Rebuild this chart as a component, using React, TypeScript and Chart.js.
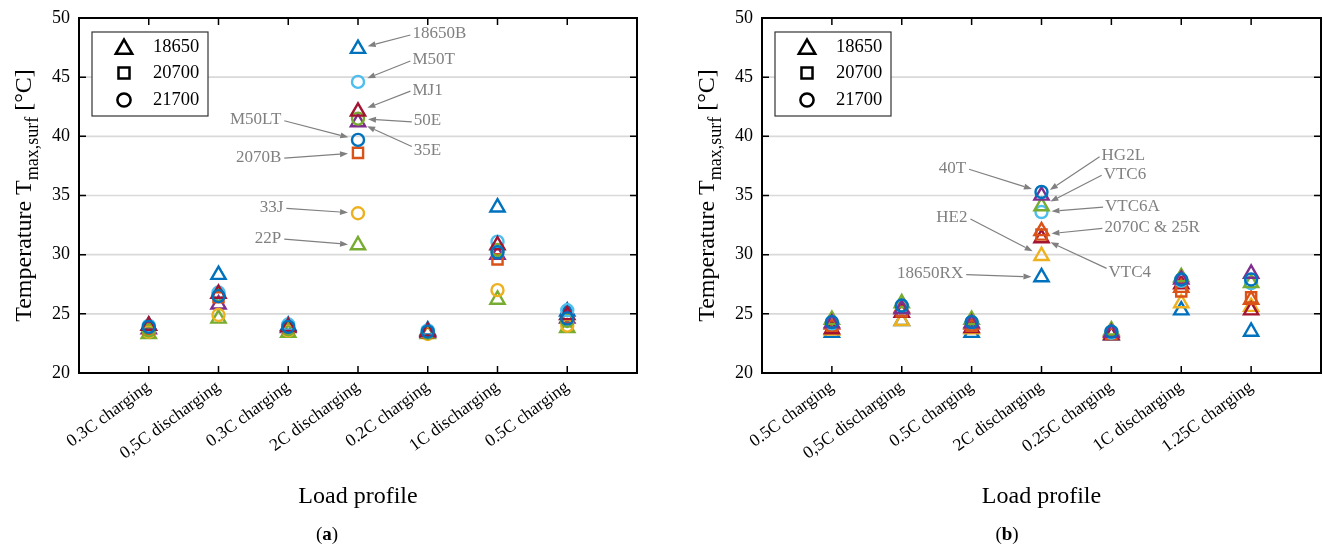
import React, { useEffect, useRef } from 'react';
import { Chart, registerables } from 'chart.js';
Chart.register(...registerables);

const FONT = '"Liberation Serif", "Times New Roman", serif';

// ---------- categories / ticks ----------
const categoriesA = ['0.3C charging', '0,5C discharging', '0.3C charging', '2C discharging', '0.2C charging', '1C discharging', '0.5C charging'];
const categoriesB = ['0.5C charging', '0,5C discharging', '0.5C charging', '2C discharging', '0.25C charging', '1C discharging', '1.25C charging'];
const yTicks = [20, 25, 30, 35, 40, 45, 50];
const legendTypes = ['18650', '20700', '21700'];

// ---------- panel (a) values, °C ----------
const a18650B = [24.0, 28.3, 24.0, 47.4, 23.6, 34.0, 25.2];
const aMJ1 = [24.0, 26.7, 23.9, 42.1, 23.5, 30.8, 24.9];
const a35E = [23.7, 25.8, 23.8, 41.2, 23.4, 30.0, 24.6];
const a22P = [23.3, 24.6, 23.4, 30.8, 23.3, 26.2, 23.8];
const a2070B = [23.7, 26.4, 23.8, 38.6, 23.4, 29.6, 24.6];
const aM50T = [24.0, 26.8, 24.1, 44.6, 23.6, 31.1, 25.3];
const aM50LT = [23.9, 26.5, 23.9, 39.7, 23.5, 30.2, 24.6];
const a50E = [23.6, 26.6, 23.7, 41.5, 23.4, 30.4, 24.4];
const a33J = [23.5, 24.9, 23.6, 33.5, 23.3, 27.0, 24.0];

// ---------- panel (b) values, °C ----------
const b40T = [24.3, 25.7, 24.3, 35.3, 23.5, 27.9, 27.9];
const bHG2L = [24.2, 25.4, 24.2, 35.0, 23.4, 27.9, 28.4];
const bVTC6 = [24.5, 25.9, 24.5, 34.1, 23.6, 28.1, 27.6];
const bVTC6A = [24.2, 25.6, 24.3, 33.6, 23.4, 27.8, 27.6];
const b25R = [24.1, 25.5, 24.1, 32.0, 23.5, 27.2, 26.2];
const b2070C = [24.0, 25.2, 24.0, 31.7, 23.3, 26.9, 26.4];
const bVTC4 = [23.7, 25.1, 23.8, 31.4, 23.2, 27.5, 25.3];
const bHE2 = [23.6, 24.4, 23.7, 29.9, 23.3, 25.9, 25.6];
const b18650RX = [23.4, 24.4, 23.4, 28.1, 23.2, 25.3, 23.5];

const COL = {
  blue: '#0072BD', orange: '#D95319', yellow: '#EDB120', purple: '#7E2F8E',
  green: '#77AC30', cyan: '#4DBEEE', red: '#A2142F',
};

type Shape = 'triangle' | 'rect' | 'circle';
const SHAPE_OF: Record<string, Shape> = { '18650': 'triangle', '20700': 'rect', '21700': 'circle' };
const RADIUS_OF: Record<Shape, number> = { triangle: 8.2, rect: 7.2, circle: 6 };
const LEGEND_RADIUS: Record<Shape, number> = { triangle: 9.5, rect: 7.8, circle: 6.6 };

type Series = { name: string; type: string; color: string; values: number[] };

// listed bottom -> top drawing order
const seriesA: Series[] = [
  { name: '22P', type: '18650', color: COL.green, values: a22P },
  { name: '35E', type: '18650', color: COL.purple, values: a35E },
  { name: '33J', type: '21700', color: COL.yellow, values: a33J },
  { name: '18650B', type: '18650', color: COL.blue, values: a18650B },
  { name: '2070B', type: '20700', color: COL.orange, values: a2070B },
  { name: '50E', type: '21700', color: COL.green, values: a50E },
  { name: 'M50T', type: '21700', color: COL.cyan, values: aM50T },
  { name: 'MJ1', type: '18650', color: COL.red, values: aMJ1 },
  { name: 'M50LT', type: '21700', color: COL.blue, values: aM50LT },
];

const seriesB: Series[] = [
  { name: '18650RX', type: '18650', color: COL.blue, values: b18650RX },
  { name: 'HE2', type: '18650', color: COL.yellow, values: bHE2 },
  { name: 'VTC4', type: '18650', color: COL.red, values: bVTC4 },
  { name: '2070C', type: '20700', color: COL.orange, values: b2070C },
  { name: '25R', type: '18650', color: COL.orange, values: b25R },
  { name: 'VTC6A', type: '21700', color: COL.cyan, values: bVTC6A },
  { name: 'VTC6', type: '18650', color: COL.green, values: bVTC6 },
  { name: 'HG2L', type: '18650', color: COL.purple, values: bHG2L },
  { name: '40T', type: '21700', color: COL.blue, values: b40T },
];

type Note = { text: string; cell: string; cat: number; tx: number; ty: number; align: 'left' | 'right'; up?: boolean };

const notesA: Note[] = [
  { text: '18650B', cell: '18650B', cat: 4, tx: 4.78, ty: 48.65, align: 'left' },
  { text: 'M50T', cell: 'M50T', cat: 4, tx: 4.78, ty: 46.45, align: 'left' },
  { text: 'MJ1', cell: 'MJ1', cat: 4, tx: 4.78, ty: 43.9, align: 'left' },
  { text: '50E', cell: '50E', cat: 4, tx: 4.8, ty: 41.3, align: 'left' },
  { text: '35E', cell: '35E', cat: 4, tx: 4.8, ty: 38.8, align: 'left', up: true },
  { text: 'M50LT', cell: 'M50LT', cat: 4, tx: 2.9, ty: 41.4, align: 'right' },
  { text: '2070B', cell: '2070B', cat: 4, tx: 2.9, ty: 38.25, align: 'right' },
  { text: '33J', cell: '33J', cat: 4, tx: 2.93, ty: 34.0, align: 'right' },
  { text: '22P', cell: '22P', cat: 4, tx: 2.9, ty: 31.4, align: 'right' },
];

const notesB: Note[] = [
  { text: '40T', cell: '40T', cat: 4, tx: 2.92, ty: 37.3, align: 'right' },
  { text: 'HG2L', cell: 'HG2L', cat: 4, tx: 4.86, ty: 38.35, align: 'left' },
  { text: 'VTC6', cell: 'VTC6', cat: 4, tx: 4.89, ty: 36.8, align: 'left' },
  { text: 'VTC6A', cell: 'VTC6A', cat: 4, tx: 4.91, ty: 34.1, align: 'left' },
  { text: '2070C & 25R', cell: '2070C', cat: 4, tx: 4.9, ty: 32.3, align: 'left' },
  { text: 'VTC4', cell: 'VTC4', cat: 4, tx: 4.96, ty: 28.5, align: 'left', up: true },
  { text: 'HE2', cell: 'HE2', cat: 4, tx: 2.94, ty: 33.1, align: 'right' },
  { text: '18650RX', cell: '18650RX', cat: 4, tx: 2.88, ty: 28.4, align: 'right' },
];

type Panel = {
  tag: string; cats: string[]; series: Series[]; notes: Note[];
  plotLeft: number; plotRight: number; labelLetter: string; labelX: number;
};

const CANVAS_W = 661;
const CANVAS_H = 551;
const PLOT_TOP = 18;
const PLOT_BOTTOM = 373;
const LABEL_ROT = 36;

const panelA: Panel = { tag: 'a', cats: categoriesA, series: seriesA, notes: notesA, plotLeft: 79, plotRight: 637, labelLetter: 'a', labelX: 327 };
const panelB: Panel = { tag: 'b', cats: categoriesB, series: seriesB, notes: notesB, plotLeft: 100, plotRight: 659, labelLetter: 'b', labelX: 345 };

function markerPath(ctx: CanvasRenderingContext2D, shape: Shape, x: number, y: number, r: number) {
  ctx.beginPath();
  if (shape === 'triangle') {
    for (let k = 0; k < 3; k++) {
      const a = (k * 2 * Math.PI) / 3;
      const px = x + Math.sin(a) * r;
      const py = y - Math.cos(a) * r;
      if (k === 0) ctx.moveTo(px, py); else ctx.lineTo(px, py);
    }
    ctx.closePath();
  } else if (shape === 'rect') {
    const s = r * Math.SQRT1_2;
    ctx.rect(x - s, y - s, 2 * s, 2 * s);
  } else {
    ctx.arc(x, y, r, 0, 2 * Math.PI);
  }
}

function drawArrow(ctx: CanvasRenderingContext2D, x0: number, y0: number, x1: number, y1: number) {
  const ang = Math.atan2(y1 - y0, x1 - x0);
  const hl = 8, hw = 3;
  const bx = x1 - Math.cos(ang) * hl;
  const by = y1 - Math.sin(ang) * hl;
  ctx.beginPath();
  ctx.moveTo(x0, y0);
  ctx.lineTo(bx, by);
  ctx.stroke();
  ctx.beginPath();
  ctx.moveTo(x1, y1);
  ctx.lineTo(bx + Math.sin(ang) * hw, by - Math.cos(ang) * hw);
  ctx.lineTo(bx - Math.sin(ang) * hw, by + Math.cos(ang) * hw);
  ctx.closePath();
  ctx.fill();
}

function makePlugin(panel: Panel) {
  return {
    id: 'decor' + panel.tag,
    beforeDatasetsDraw(chart: any) {
      const { ctx, chartArea: ca, scales } = chart;
      const ys = scales.y;
      ctx.save();
      ctx.strokeStyle = '#d9d9d9';
      ctx.lineWidth = 1.6;
      for (const t of yTicks) {
        if (t <= 20 || t >= 50) continue;
        const py = ys.getPixelForValue(t);
        ctx.beginPath();
        ctx.moveTo(ca.left, py);
        ctx.lineTo(ca.right, py);
        ctx.stroke();
      }
      ctx.restore();
    },
    afterDatasetsDraw(chart: any) {
      const { ctx, chartArea: ca, scales } = chart;
      const xs = scales.x, ys = scales.y;
      ctx.save();
      ctx.strokeStyle = '#000';
      ctx.lineWidth = 1.5;
      const tl = 7;
      for (const t of yTicks) {
        const py = ys.getPixelForValue(t);
        ctx.beginPath();
        ctx.moveTo(ca.left, py); ctx.lineTo(ca.left + tl, py);
        ctx.moveTo(ca.right, py); ctx.lineTo(ca.right - tl, py);
        ctx.stroke();
      }
      for (let i = 1; i <= panel.cats.length; i++) {
        const px = xs.getPixelForValue(i);
        ctx.beginPath();
        ctx.moveTo(px, ca.bottom); ctx.lineTo(px, ca.bottom - tl);
        ctx.moveTo(px, ca.top); ctx.lineTo(px, ca.top + tl);
        ctx.stroke();
      }
      ctx.lineWidth = 2;
      ctx.strokeRect(ca.left, ca.top, ca.right - ca.left, ca.bottom - ca.top);

      // annotations
      ctx.font = `17px ${FONT}`;
      ctx.fillStyle = '#808080';
      ctx.strokeStyle = '#808080';
      ctx.lineWidth = 1.2;
      ctx.textBaseline = 'middle';
      for (const n of panel.notes) {
        const s = panel.series.find((q) => q.name === n.cell)!;
        const mx = xs.getPixelForValue(n.cat);
        const my = ys.getPixelForValue(s.values[n.cat - 1]);
        const tx = xs.getPixelForValue(n.tx);
        const ty = ys.getPixelForValue(n.ty);
        ctx.textAlign = n.align;
        ctx.fillText(n.text, tx, ty);
        let sx: number, sy: number;
        if (n.align === 'left') { sx = tx - 2; sy = n.up ? ty - 4 : ty + 1; }
        else { sx = tx + 3; sy = ty + 1; }
        const d = Math.hypot(sx - mx, sy - my);
        const gap = 10;
        const ex = mx + ((sx - mx) / d) * gap;
        const ey = my + ((sy - my) / d) * gap;
        drawArrow(ctx, sx, sy, ex, ey);
      }

      // legend box
      const bx = ca.left + 13, by = ca.top + 14, bw = 116, bh = 84;
      ctx.fillStyle = '#fff';
      ctx.fillRect(bx, by, bw, bh);
      ctx.strokeStyle = '#333';
      ctx.lineWidth = 1.2;
      ctx.strokeRect(bx, by, bw, bh);
      const rows = [15, 41, 68];
      ctx.font = `18.5px ${FONT}`;
      ctx.textAlign = 'left';
      ctx.textBaseline = 'middle';
      legendTypes.forEach((lt, k) => {
        const shape = SHAPE_OF[lt];
        ctx.strokeStyle = '#000';
        ctx.lineWidth = 2.5;
        const cy = by + rows[k] + (shape === 'triangle' ? 2 : 0);
        markerPath(ctx, shape, bx + 32, cy, LEGEND_RADIUS[shape]);
        ctx.stroke();
        ctx.fillStyle = '#000';
        ctx.fillText(lt, bx + 61, by + rows[k]);
      });
      ctx.restore();
    },
    afterDraw(chart: any) {
      const { ctx, chartArea: ca } = chart;
      ctx.save();
      ctx.fillStyle = '#000';
      const main = `24px ${FONT}`, sub = `18px ${FONT}`;
      ctx.font = main;
      const w1 = ctx.measureText('Temperature T').width;
      const w3 = ctx.measureText(' [°C]').width;
      ctx.font = sub;
      const w2 = ctx.measureText('max,surf').width;
      const total = w1 + w2 + w3;
      ctx.translate(ca.left - 48, (ca.top + ca.bottom) / 2);
      ctx.rotate(-Math.PI / 2);
      ctx.textAlign = 'left';
      ctx.textBaseline = 'alphabetic';
      let x = -total / 2;
      ctx.font = main; ctx.fillText('Temperature T', x, 0); x += w1;
      ctx.font = sub; ctx.fillText('max,surf', x, 7); x += w2;
      ctx.font = main; ctx.fillText(' [°C]', x, 0);
      ctx.setTransform(1, 0, 0, 1, 0, 0);
      ctx.font = `24px ${FONT}`;
      ctx.textAlign = 'center';
      ctx.textBaseline = 'middle';
      ctx.fillText('Load profile', (ca.left + ca.right) / 2, 497);
      const nf = `19px ${FONT}`, bf = `bold 19px ${FONT}`;
      ctx.font = nf; const p1 = ctx.measureText('(').width; const p3 = ctx.measureText(')').width;
      ctx.font = bf; const p2 = ctx.measureText(panel.labelLetter).width;
      let lx = panel.labelX - (p1 + p2 + p3) / 2;
      ctx.textAlign = 'left';
      ctx.font = nf; ctx.fillText('(', lx, 535); lx += p1;
      ctx.font = bf; ctx.fillText(panel.labelLetter, lx, 535); lx += p2;
      ctx.font = nf; ctx.fillText(')', lx, 535);
      ctx.restore();
    },
  };
}

function buildChart(canvas: HTMLCanvasElement, panel: Panel) {
  const n = panel.series.length;
  const datasets = panel.series.map((s, i) => {
    const shape = SHAPE_OF[s.type];
    return {
      label: s.name,
      data: s.values.map((v, k) => ({ x: k + 1, y: v })),
      pointStyle: shape,
      pointRadius: RADIUS_OF[shape],
      pointBorderWidth: 2.4,
      borderColor: s.color,
      backgroundColor: 'rgba(0,0,0,0)',
      pointBackgroundColor: 'rgba(0,0,0,0)',
      pointBorderColor: s.color,
      showLine: false,
      order: n - i,
    };
  });
  const cats = panel.cats;
  return new Chart(canvas, {
    type: 'scatter',
    data: { datasets },
    options: {
      responsive: false,
      animation: false,
      events: [],
      devicePixelRatio: 1,
      layout: { autoPadding: false, padding: { left: 0, top: PLOT_TOP, right: CANVAS_W - panel.plotRight, bottom: 0 } },
      plugins: { legend: { display: false }, tooltip: { enabled: false }, title: { display: false } },
      scales: {
        x: {
          type: 'linear',
          min: 0,
          max: cats.length + 1,
          afterBuildTicks: (s: any) => { s.ticks = cats.map((_, i) => ({ value: i + 1 })); },
          afterFit: (s: any) => { s.height = CANVAS_H - PLOT_BOTTOM; s.paddingLeft = 0; s.paddingRight = 0; },
          ticks: {
            autoSkip: false,
            maxRotation: LABEL_ROT,
            minRotation: LABEL_ROT,
            padding: 4,
            color: '#000',
            font: { family: FONT, size: 17.5 },
            callback: (v: any) => cats[Number(v) - 1] ?? '',
          },
          grid: { display: false, drawTicks: false },
          border: { display: false },
        },
        y: {
          type: 'linear',
          min: 20,
          max: 50,
          afterBuildTicks: (s: any) => { s.ticks = yTicks.map((v) => ({ value: v })); },
          afterFit: (s: any) => { s.width = panel.plotLeft; s.paddingTop = 0; s.paddingBottom = 0; },
          ticks: { padding: 9, color: '#000', font: { family: FONT, size: 18 }, callback: (v: any) => String(v) },
          grid: { display: false, drawTicks: false },
          border: { display: false },
        },
      },
    } as any,
    plugins: [makePlugin(panel)],
  });
}

export default function App() {
  const refA = useRef<HTMLCanvasElement>(null);
  const refB = useRef<HTMLCanvasElement>(null);
  useEffect(() => {
    document.body.style.margin = '0';
    const ca = buildChart(refA.current!, panelA);
    const cb = buildChart(refB.current!, panelB);
    return () => { ca.destroy(); cb.destroy(); };
  }, []);
  return (
    <div style={{ position: 'relative', width: 1323, height: 551, background: '#fff' }}>
      <canvas ref={refA} width={CANVAS_W} height={CANVAS_H} style={{ position: 'absolute', left: 0, top: 0, width: CANVAS_W, height: CANVAS_H }} />
      <canvas ref={refB} width={CANVAS_W} height={CANVAS_H} style={{ position: 'absolute', left: 662, top: 0, width: CANVAS_W, height: CANVAS_H }} />
    </div>
  );
}
